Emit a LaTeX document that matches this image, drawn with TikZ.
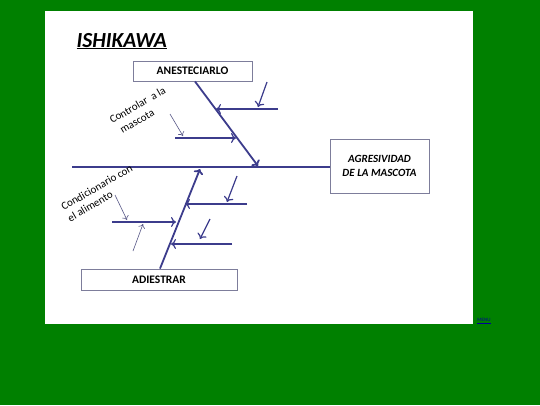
\documentclass[tikz,border=0pt]{standalone}
\usepackage{fontspec}
\setmainfont{Carlito}
\usetikzlibrary{positioning}
\usetikzlibrary{arrows.meta}
\definecolor{slidegreen}{RGB}{0,128,0}
\definecolor{bone}{RGB}{60,60,140}
\definecolor{boxline}{RGB}{125,125,155}
\tikzset{
        % Cause and effect boxes
        box/.style={draw=boxline, fill=white, line width=0.9pt, inner sep=0pt, align=center, font=\fontsize{11.5}{13}\selectfont\bfseries},
        % Main spine and side bones
        spine/.style={draw=bone, line width=2pt},
        bonearrow/.style={draw=bone, line width=1.8pt, -{To[length=5pt, width=10pt]}},
        % Small cause arrows
        subarrow/.style={draw=bone, line width=1.2pt, -{To[length=5pt, width=10pt]}},
        thinarrow/.style={draw=bone!60!gray, line width=0.6pt, -{To[length=4pt, width=7pt]}},
        % Rotated notes
        note/.style={font=\fontsize{11}{13}\selectfont, align=left, rotate=30, inner sep=0pt}
}
\begin{document}
\begin{tikzpicture}[x=1pt, y=-1pt]
    \fill[slidegreen] (0,0) rectangle (540,405);
    \useasboundingbox (0,0) rectangle (540,405);
    \fill[white] (45,11) rectangle (473,324);

    \node[anchor=base west, font=\fontsize{21.5}{24}\selectfont\bfseries\itshape] (title) at (73,47) {\underline{ISHIKAWA}};

    \node[box, minimum width=119pt, minimum height=20pt] (anest) at (192.5,71) {ANESTECIARLO};
    \node[box, minimum width=156pt, minimum height=21pt] (adiest) at (159,279.5) {ADIESTRAR};
    \node[box, minimum width=99pt, minimum height=54pt, font=\fontsize{11}{14}\selectfont\bfseries\itshape] (effect) at (379.5,166) {AGRESIVIDAD\\DE LA MASCOTA};

    % spine
    \coordinate (tail) at (72,167);
    \draw[spine] (tail) -- (tail -| effect.west);

    % upper bone
    \coordinate (uphead) at (258,166);
    \draw[bonearrow] ([xshift=2.5pt]anest.south) -- (uphead);
    \coordinate (u1) at (216,109);
    \coordinate (u1s) at (278,109);
    \coordinate (u2) at (236,138);
    \coordinate (u2s) at (175,138);
    \draw[subarrow] (u1s) -- (u1);
    \draw[subarrow] (u2s) -- (u2);
    \coordinate (a1) at (267,82);
    \coordinate (a1e) at (258,107);
    \draw[subarrow] (a1) -- (a1e);
    \coordinate (a2) at (170,114);
    \coordinate (a2e) at (183,136);
    \draw[thinarrow] (a2) -- (a2e);
    \node[note] (ctrl) at (141,111) {Controlar~ a la\\[1pt]\hspace*{4pt}mascota};

    % lower bone
    \coordinate (lowhead) at (200,169);
    \draw[bonearrow] ([xshift=1pt]adiest.north) -- (lowhead);
    \coordinate (l1) at (185,204);
    \coordinate (l1s) at (247,204);
    \coordinate (l2) at (171,244);
    \coordinate (l2s) at (232,244);
    \coordinate (l3) at (176,222);
    \coordinate (l3s) at (112,222);
    \draw[subarrow] (l1s) -- (l1);
    \draw[subarrow] (l2s) -- (l2);
    \draw[subarrow] (l3s) -- (l3);
    \coordinate (b1) at (237,176);
    \coordinate (b1e) at (227,202);
    \draw[subarrow] (b1) -- (b1e);
    \coordinate (b2) at (210,219);
    \coordinate (b2e) at (200,239);
    \draw[subarrow] (b2) -- (b2e);
    \coordinate (b3) at (115,195);
    \coordinate (b3e) at (127,220);
    \draw[thinarrow] (b3) -- (b3e);
    \coordinate (b4) at (133,251);
    \coordinate (b4e) at (143,224);
    \draw[thinarrow] (b4) -- (b4e);
    \node[note] (cond) at (100,193) {Condicionario con\\el alimento};

    \node[font=\fontsize{5}{6}\selectfont, text=blue!60!black, inner sep=0pt] (menu) at (484,321) {\underline{MENU}};
\end{tikzpicture}
\end{document}
